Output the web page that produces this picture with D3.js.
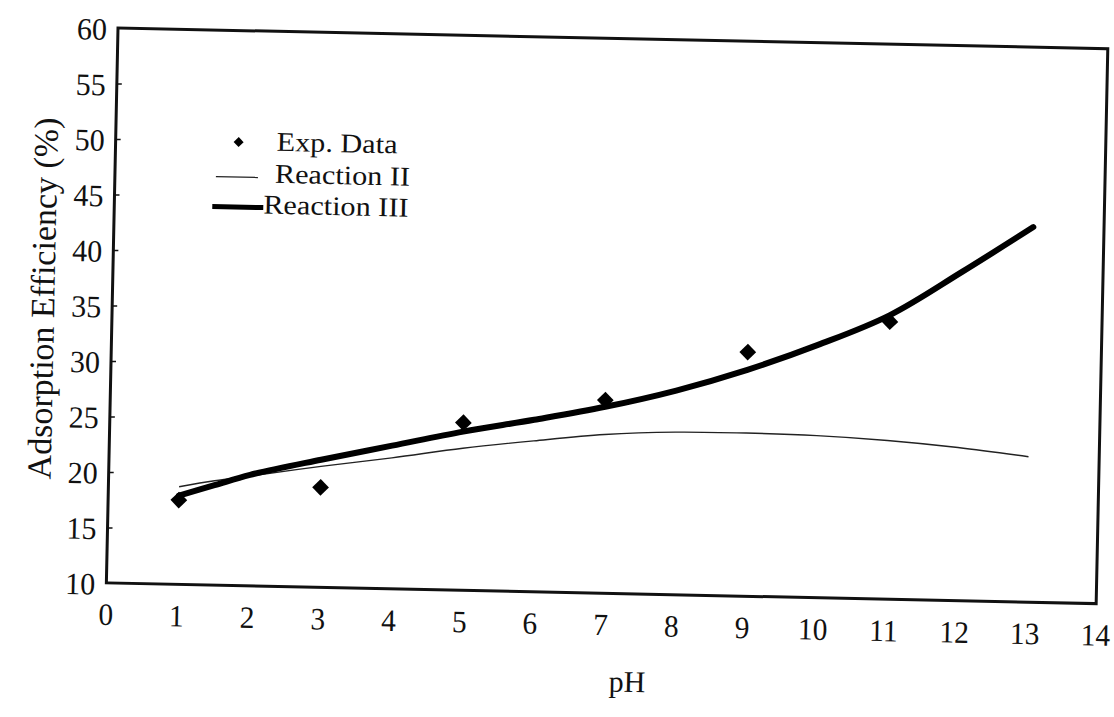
<!DOCTYPE html>
<html>
<head>
<meta charset="utf-8">
<script src="https://cdn.jsdelivr.net/npm/d3@7"></script>
<style>
  html, body { margin: 0; padding: 0; background: #fff; }
  svg { display: block; }
  text { font-family: "Liberation Serif", "Times New Roman", serif; fill: #111; }
</style>
</head>
<body>
<svg id="chart" width="1114" height="717"></svg>
<script>
// pH values and measured / modelled adsorption efficiency (%)
const expPH = [1, 3, 5, 7, 9, 11];
const expEff = [17.6, 19.0, 25.1, 27.4, 32.0, 35.0];

const modelPH = [1, 1.5, 2, 3, 4, 5, 6, 7, 8, 9, 10, 11, 12, 13];
const reaction2 = [18.8, 19.4, 19.9, 20.9, 21.8, 22.8, 23.6, 24.3, 24.65, 24.7, 24.6, 24.3, 23.8, 23.1];
const reaction3 = [18.0, 19.0, 20.0, 21.5, 22.9, 24.3, 25.5, 26.8, 28.4, 30.4, 32.8, 35.6, 39.6, 43.8];

const xTicks = d3.range(0, 15, 1);
const yTicks = d3.range(10, 61, 5);

const legendItems = [
  { label: "Exp. Data", kind: "point" },
  { label: "Reaction II", kind: "thin" },
  { label: "Reaction III", kind: "thick" }
];

// plot frame size and placement
const W = 990, H = 555;
const svg = d3.select("#chart");
const g = svg.append("g").attr("transform", "translate(118,28) rotate(1.2)");

const x = d3.scaleLinear().domain([0, 14]).range([0, W]);
const y = d3.scaleLinear().domain([10, 60]).range([H, 0]);

// text helper with optional horizontal scaling of the serif glyphs
function label(parent, px, py, str, size, anchor, sx = 1.12) {
  return parent.append("text")
    .attr("transform", `translate(${px},${py}) scale(${sx},1)`)
    .attr("text-anchor", anchor)
    .attr("font-size", size)
    .text(str);
}

// frame
g.append("rect")
  .attr("x", 0).attr("y", 0).attr("width", W).attr("height", H)
  .attr("fill", "none").attr("stroke", "#111").attr("stroke-width", 3);

// inward y ticks
const yAxis = d3.axisRight(y).tickValues(yTicks.slice(1, -1)).tickSize(5).tickFormat("");
g.append("g").call(yAxis)
  .call(s => s.select(".domain").remove())
  .call(s => s.selectAll("line").attr("stroke", "#111").attr("stroke-width", 1.5));

// tick labels
yTicks.forEach(v => {
  label(g, -11, y(v) + 12, String(v), 31, "end", 0.97);
});
xTicks.forEach(v => {
  label(g, x(v), H + 42, String(v), 31, "middle", 0.95);
});

// axis titles
label(g, W * 0.528, H + 98, "pH", 30, "middle", 1);
g.append("text")
  .attr("transform", `translate(-58,${H * 0.49}) rotate(-90)`)
  .attr("text-anchor", "middle")
  .attr("font-size", 34)
  .text("Adsorption Efficiency (%)");

// model curves
const line = d3.line().x(d => x(d[0])).y(d => y(d[1])).curve(d3.curveCatmullRom.alpha(0.5));
g.append("path")
  .datum(d3.zip(modelPH, reaction2))
  .attr("d", line)
  .attr("fill", "none").attr("stroke", "#222").attr("stroke-width", 1.4);
g.append("path")
  .datum(d3.zip(modelPH, reaction3))
  .attr("d", line)
  .attr("fill", "none").attr("stroke", "#000").attr("stroke-width", 6)
  .attr("stroke-linecap", "round").attr("stroke-linejoin", "round");

// experimental points (diamonds)
g.selectAll("path.exp")
  .data(d3.zip(expPH, expEff))
  .join("path")
  .attr("class", "exp")
  .attr("transform", d => `translate(${x(d[0])},${y(d[1])}) rotate(45)`)
  .attr("d", d3.symbol().type(d3.symbolSquare).size(140))
  .attr("fill", "#000");

// legend
const lg = g.append("g");
const rowsY = [111.5, 146.5, 176.5];
legendItems.forEach((it, i) => {
  const cy = rowsY[i];
  if (it.kind === "point") {
    lg.append("path")
      .attr("transform", `translate(123,${cy}) rotate(45)`)
      .attr("d", d3.symbol().type(d3.symbolSquare).size(50))
      .attr("fill", "#000");
    label(lg, 161, cy + 8, it.label, 27, "start");
  } else if (it.kind === "thin") {
    lg.append("line").attr("x1", 101).attr("x2", 143).attr("y1", cy).attr("y2", cy)
      .attr("stroke", "#222").attr("stroke-width", 1.4);
    label(lg, 160, cy + 5, it.label, 27, "start");
  } else {
    lg.append("line").attr("x1", 98).attr("x2", 149).attr("y1", cy).attr("y2", cy)
      .attr("stroke", "#000").attr("stroke-width", 5);
    label(lg, 149, cy + 6, it.label, 27, "start");
  }
});
</script>
</body>
</html>
